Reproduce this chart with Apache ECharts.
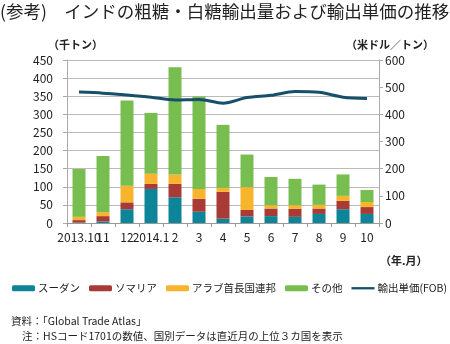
<!DOCTYPE html>
<html><head><meta charset="utf-8">
<script src="https://cdn.jsdelivr.net/npm/echarts@6/dist/echarts.min.js"></script>
<style>html,body{margin:0;padding:0;background:#fff}#c{width:450px;height:344px}</style>
</head><body><div id="c"></div>
<script>
const categories = ['2013.10','11','12','2014.1','2','3','4','5','6','7','8','9','10'];
const sudan   = [1, 4, 38, 94, 71, 31, 12, 18, 19, 17, 25, 38, 25];
const somalia = [7, 15, 19, 14, 37, 36, 74, 18, 21, 22, 15, 23, 19];
const uae     = [9, 11, 46, 28, 26, 27, 11, 63, 9, 10, 10, 14, 14];
const others  = [132, 155, 235, 168, 296, 255, 174, 90, 78, 73, 56, 59, 33];
const fobPrice = [482, 478, 471, 463, 453, 455, 441, 462, 470, 484, 481, 463, 458];
const leftTicks = [0, 450, 50];
const rightTicks = [0, 600, 100];

const FONT = '"Noto Sans CJK JP", sans-serif';
const chart = echarts.init(document.getElementById('c'), null, {renderer: 'canvas'});
const barSeries = (name, data, color) => ({
  name, type: 'bar', stack: 'total', data, barWidth: 13,
  itemStyle: {color}, emphasis: {disabled: true}
});
chart.setOption({
  animation: false,
  textStyle: {fontFamily: FONT},
  grid: {left: 67, right: 71, top: 60, bottom: 121},
  title: [
    {text: '(参考)　インドの粗糖・白糖輸出量および輸出単価の推移', left: 0, top: 3, padding: 0,
     textStyle: {fontSize: 17.5, fontWeight: 'normal', color: '#222', fontFamily: FONT}},
    {text: '資料：「Global Trade Atlas」', left: 11, top: 316, padding: 0,
     textStyle: {fontSize: 10.5, fontWeight: 'normal', color: '#222', fontFamily: FONT}},
    {text: '注：HSコード1701の数値、国別データは直近月の上位３カ国を表示', left: 22, top: 331, padding: 0,
     textStyle: {fontSize: 10.5, fontWeight: 'normal', color: '#222', fontFamily: FONT}}
  ],
  graphic: [
    {type: 'text', left: 48, top: 39, style: {text: '（千トン）', font: 'bold 11px ' + FONT, fill: '#222'}},
    {type: 'text', left: 346, top: 39, style: {text: '（米ドル／トン）', font: 'bold 11px ' + FONT, fill: '#222'}},
    {type: 'text', left: 380, top: 255, style: {text: '（年.月）', font: 'bold 11px ' + FONT, fill: '#222'}}
  ],
  legend: {
    left: 12, top: 283, padding: 0, itemWidth: 23, itemHeight: 6, itemGap: 9,
    textStyle: {fontSize: 10.5, color: '#222', fontFamily: FONT, padding: [0, 0, 0, -2]},
    data: ['スーダン','ソマリア','アラブ首長国連邦','その他',
           {name: '輸出単価(FOB)', icon: 'path://M0,0 L10,0 L10,1 L0,1 Z'}]
  },
  xAxis: {
    type: 'category', data: categories, boundaryGap: true,
    axisLine: {lineStyle: {color: '#999'}},
    axisTick: {show: true, length: 4, lineStyle: {color: '#999'}},
    axisLabel: {color: '#222', fontSize: 12, margin: 8, interval: 0, fontFamily: FONT}
  },
  yAxis: [
    {type: 'value', min: leftTicks[0], max: leftTicks[1], interval: leftTicks[2],
     axisLine: {show: true, lineStyle: {color: '#aaa'}},
     axisTick: {show: true, length: 4, lineStyle: {color: '#aaa'}},
     splitLine: {lineStyle: {color: '#bbb'}},
     axisLabel: {color: '#222', fontSize: 12, margin: 14, fontFamily: FONT}},
    {type: 'value', min: rightTicks[0], max: rightTicks[1], interval: rightTicks[2],
     axisLine: {show: true, lineStyle: {color: '#aaa'}},
     axisTick: {show: true, length: 4, lineStyle: {color: '#aaa'}},
     splitLine: {show: false},
     axisLabel: {color: '#222', fontSize: 12, margin: 6, fontFamily: FONT}}
  ],
  series: [
    barSeries('スーダン', sudan, '#0e8499'),
    barSeries('ソマリア', somalia, '#a93b36'),
    barSeries('アラブ首長国連邦', uae, '#f8b42c'),
    barSeries('その他', others, '#78bd50'),
    {name: '輸出単価(FOB)', type: 'line', yAxisIndex: 1, data: fobPrice, smooth: 0.3,
     symbol: 'none', lineStyle: {color: '#164f6c', width: 3}, itemStyle: {color: '#164f6c'}}
  ]
});
</script></body></html>
